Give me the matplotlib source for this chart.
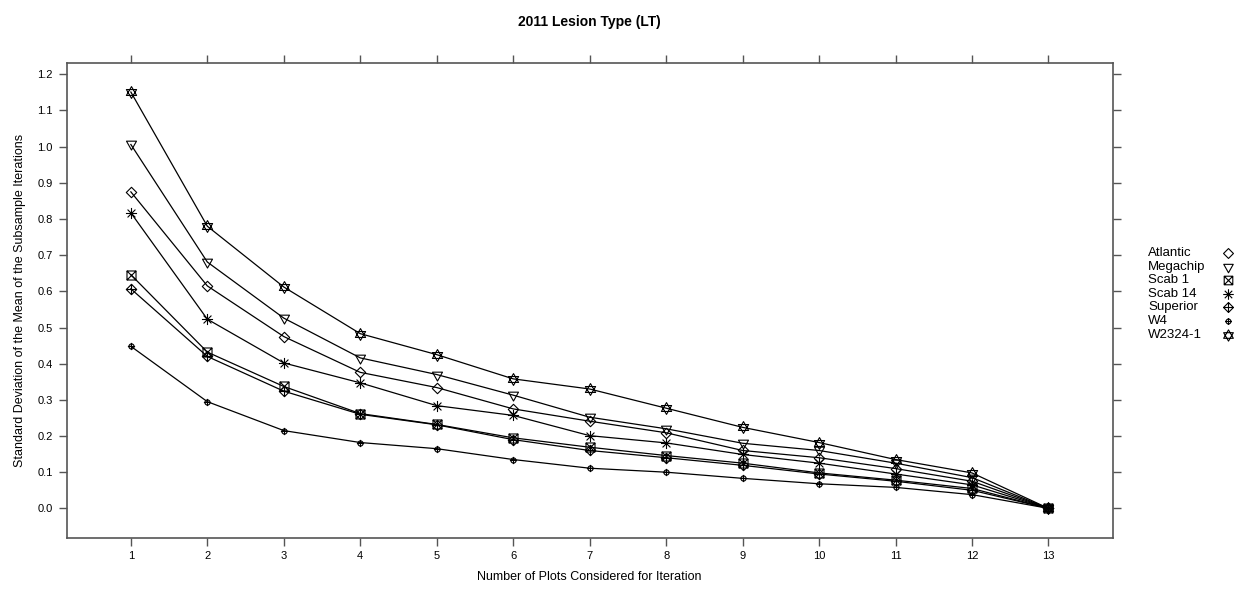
import numpy as np
import matplotlib
matplotlib.use("Agg")
import matplotlib.pyplot as plt
from matplotlib.path import Path
from matplotlib.lines import Line2D

plt.rcParams['font.family'] = ['Liberation Sans', 'DejaVu Sans']

# data
n_plots = list(range(1, 14))
atlantic = [0.875, 0.615, 0.475, 0.376, 0.334, 0.275, 0.241, 0.209, 0.160, 0.140, 0.110, 0.075, 0.0]
megachip = [1.006, 0.681, 0.526, 0.416, 0.370, 0.313, 0.252, 0.220, 0.180, 0.160, 0.125, 0.085, 0.0]
scab1 = [0.646, 0.432, 0.337, 0.262, 0.232, 0.195, 0.169, 0.146, 0.125, 0.098, 0.078, 0.055, 0.0]
scab14 = [0.817, 0.523, 0.402, 0.347, 0.284, 0.257, 0.201, 0.181, 0.149, 0.125, 0.095, 0.065, 0.0]
superior = [0.607, 0.420, 0.324, 0.260, 0.231, 0.190, 0.160, 0.140, 0.119, 0.095, 0.075, 0.050, 0.0]
w4 = [0.448, 0.295, 0.215, 0.182, 0.165, 0.135, 0.111, 0.100, 0.083, 0.068, 0.058, 0.038, 0.0]
w2324 = [1.151, 0.780, 0.612, 0.483, 0.425, 0.358, 0.330, 0.277, 0.224, 0.182, 0.135, 0.098, 0.0]

names = ['Atlantic', 'Megachip', 'Scab 1', 'Scab 14', 'Superior', 'W4', 'W2324-1']
series = [atlantic, megachip, scab1, scab14, superior, w4, w2324]

M, L, C = Path.MOVETO, Path.LINETO, Path.CLOSEPOLY


def diamond():
    return Path([(0, 1), (1, 0), (0, -1), (-1, 0), (0, 1)], [M, L, L, L, C])


def tri_down():
    return Path([(0, -1), (-0.9, 0.6), (0.9, 0.6), (0, -1)], [M, L, L, C])


def square_x():
    v = [(-1, -1), (1, -1), (1, 1), (-1, 1), (-1, -1),
         (-1, -1), (1, 1), (-1, 1), (1, -1)]
    c = [M, L, L, L, C, M, L, M, L]
    return Path(v, c)


def asterisk():
    v, c = [], []
    for a in np.deg2rad([0, 45, 90, 135]):
        v += [(np.cos(a), np.sin(a)), (-np.cos(a), -np.sin(a))]
        c += [M, L]
    return Path(v, c)


def diamond_plus():
    return Path.make_compound_path(
        diamond(), Path([(0, 1), (0, -1), (-1, 0), (1, 0)], [M, L, M, L]))


def circle_plus():
    return Path.make_compound_path(
        Path.unit_circle(), Path([(0, 1.4), (0, -1.4), (-1.4, 0), (1.4, 0)], [M, L, M, L]))


def star_david():
    up = Path([(0, 1), (-0.866, -0.5), (0.866, -0.5), (0, 1)], [M, L, L, C])
    dn = Path([(0, -1), (-0.866, 0.5), (0.866, 0.5), (0, -1)], [M, L, L, C])
    return Path.make_compound_path(up, dn)


markers = [diamond(), tri_down(), square_x(), asterisk(), diamond_plus(), circle_plus(), star_david()]
msizes = [7.5, 8, 6.5, 8, 7.5, 5.2, 8.5]

fig = plt.figure(figsize=(12.41, 5.91), dpi=100)
ax = fig.add_axes([0.0537, 0.0905, 0.8429, 0.8037])

for vals, mk, ms in zip(series, markers, msizes):
    ax.plot(n_plots, vals, color='black', lw=0.9, marker=mk, ms=ms,
            mfc='none', mec='black', mew=0.8)

ax.set_xlim(0.16, 13.84)
ax.set_ylim(-0.0806, 1.2326)
ax.set_xticks(n_plots)
ax.set_yticks(np.round(np.arange(0, 1.21, 0.1), 1))
ax.set_yticklabels([f'{v:.1f}' for v in np.arange(0, 1.21, 0.1)])
ax.tick_params(direction='out', length=6, width=1, color='#555555', labelsize=8,
               top=True, right=True, labeltop=False, labelright=False, pad=4)
for s in ax.spines.values():
    s.set_color('#555555')
    s.set_linewidth(1.2)

ax.set_xlabel('Number of Plots Considered for Iteration', fontsize=9, labelpad=7)
ax.set_ylabel('Standard Deviation of the Mean of the Subsample Iterations', fontsize=9, labelpad=8)
fig.text(0.475, 0.962, '2011 Lesion Type (LT)', ha='center', va='center',
         fontsize=10, fontweight='bold')

# key on the right, text first then symbol
y0 = 1 - 253 / 591
dy = 13.6 / 591
for i, (name, mk, ms) in enumerate(zip(names, markers, msizes)):
    y = y0 - i * dy
    fig.text(1148 / 1241, y, name, ha='left', va='center', fontsize=9.5)
    fig.add_artist(Line2D([1228 / 1241], [y], transform=fig.transFigure, marker=mk,
                          ms=ms * 0.95, mfc='none', mec='black', mew=0.8, ls='none'))

fig.savefig('out.png', dpi=100)
